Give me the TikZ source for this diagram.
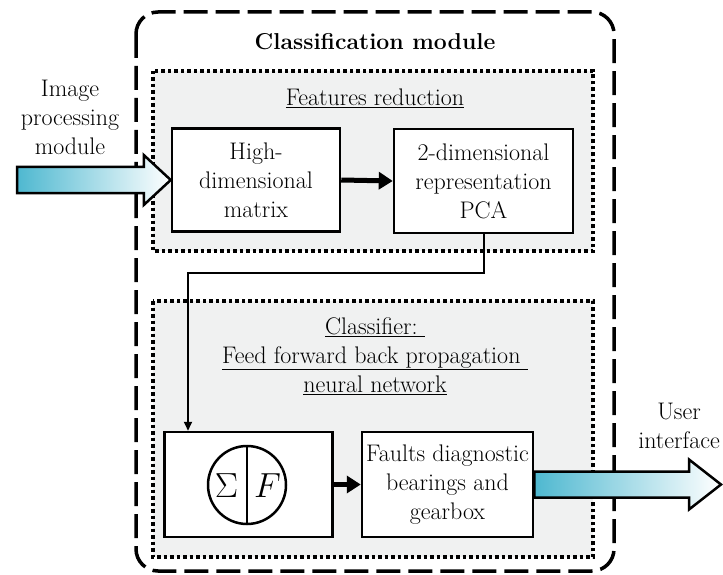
\documentclass[tikz,border=0pt]{standalone}
\usepackage{fontspec}
\usetikzlibrary{arrows.meta,calc}
\definecolor{flowcyan}{RGB}{78,184,208}
\definecolor{panelgray}{RGB}{240,241,241}
\tikzset{
  txt/.style={font=\fontsize{24}{29}\selectfont, align=center, inner sep=0pt},
  blockbox/.style={draw, line width=2.5pt, fill=white, inner sep=0pt},
  panel/.style={line width=3.5pt, dash pattern=on 3.5pt off 3pt, fill=panelgray},
  bigarrow/.style={line width=5pt, -{Triangle[length=14pt,width=17pt]}},
  link/.style={line width=2pt, -{Triangle[length=9pt,width=8pt]}},
  hollow/.style={draw, line width=2.5pt, line join=miter, left color=flowcyan, right color=white},
  symb/.style={inner sep=0pt, font=\fontsize{24}{29}\selectfont, scale=1.4},
}
\begin{document}
\begin{tikzpicture}[x=1pt,y=-1pt]
\useasboundingbox (0,0) rectangle (723,575);

% outer module frame
\draw[line width=3.5pt, dash pattern=on 24pt off 8pt, rounded corners=22pt]
  (136,12) rectangle (614,571);
\node[txt, font=\fontsize{23}{28.5}\selectfont\bfseries] (title) at (375,42) {Classification module};

% feature-reduction panel
\draw[panel] (153,71) rectangle (593,251);
\node[txt] (fr) at (375,98) {\underline{Features reduction}};
\node[blockbox, minimum width=168pt, minimum height=103pt] (hdm) at (256,180) {};
\node[txt] at (hdm.center) {High-\\dimensional\\matrix};
\node[blockbox, minimum width=179pt, minimum height=104pt] (pca) at (483.5,181) {};
\node[txt] at (pca.center) {2-dimensional\\representation\\PCA};

% classifier panel
\draw[panel] (153,301) rectangle (593,557);
\node[txt] (cl) at (375,356) {\underline{Classifier:\ }\\\underline{Feed forward back propagation\ }\\\underline{neural network}};
\node[blockbox, minimum width=168pt, minimum height=105pt] (nn) at (248.5,484.5) {};
\node[draw, circle, line width=2.5pt, minimum size=78pt, inner sep=0pt] (neuron) at (247,485) {};
\draw[line width=2.5pt] (neuron.north) -- (neuron.south);
\node[symb] (sig) at (226.5,486) {$\Sigma$};
\node[symb] (ff) at (267.5,486) {$F$};
\node[blockbox, minimum width=171pt, minimum height=105pt] (fd) at (447.5,484.5) {};
\node[txt] at (fd.center) {Faults diagnostic\\bearings and\\gearbox};

% internal connectors
\draw[bigarrow] (hdm.east) -- (pca.west);
\draw[bigarrow] (nn.east) -- (fd.west);
\draw[link] (pca.south) |- (188,273) -- (188,273 |- nn.north);

% external input / output
\node[txt] (inlbl) at (70,117) {Image\\processing\\module};
\node[txt] (outlbl) at (679,426) {User\\interface};
\coordinate (inTail) at (17,180);
\path[hollow] ($(inTail)+(0,-13)$) -- ($(hdm.west)+(-27,-13)$) -- ($(hdm.west)+(-27,-25)$)
  -- (hdm.west) -- ($(hdm.west)+(-27,25)$) -- ($(hdm.west)+(-27,13)$) -- ($(inTail)+(0,13)$) -- cycle;
\coordinate (outTip) at (721,484.5);
\path[hollow] ($(fd.east)+(0,-13)$) -- ($(outTip)+(-32,-13)$) -- ($(outTip)+(-32,-25)$)
  -- (outTip) -- ($(outTip)+(-32,25)$) -- ($(outTip)+(-32,13)$) -- ($(fd.east)+(0,13)$) -- cycle;
\end{tikzpicture}
\end{document}
